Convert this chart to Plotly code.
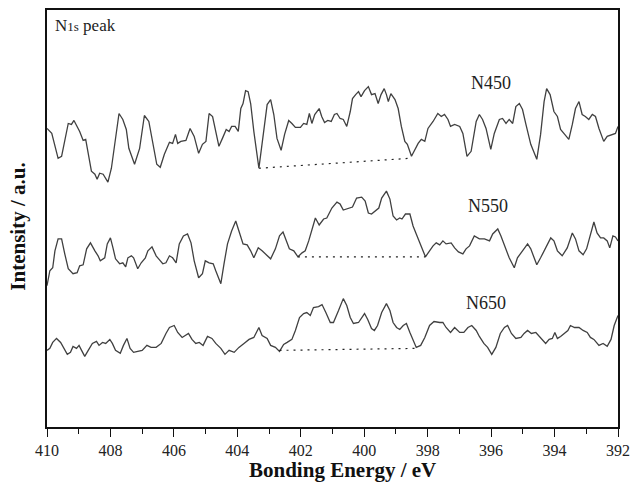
import plotly.graph_objects as go

# ---- data (binding energy in eV, intensity in a.u.) ----
e450 = [410.0, 409.85, 409.65, 409.54, 409.33, 409.23, 409.15, 408.97, 408.86, 408.78, 408.60, 408.49, 408.42, 408.34, 408.23, 408.08, 407.97, 407.73, 407.61, 407.50, 407.42, 407.24, 407.08, 406.93, 406.79, 406.67, 406.54, 406.43, 406.30, 406.14, 406.04, 405.95, 405.88, 405.78, 405.62, 405.49, 405.36, 405.22, 405.10, 404.99, 404.89, 404.78, 404.68, 404.58, 404.47, 404.35, 404.26, 404.18, 404.07, 403.97, 403.89, 403.82, 403.74, 403.66, 403.58, 403.48, 403.32, 403.20, 403.06, 402.95, 402.85, 402.75, 402.62, 402.51, 402.38, 402.28, 402.17, 402.01, 401.91, 401.81, 401.73, 401.65, 401.56, 401.42, 401.34, 401.25, 401.15, 401.04, 400.94, 400.86, 400.76, 400.66, 400.55, 400.44, 400.37, 400.27, 400.18, 400.10, 399.99, 399.87, 399.77, 399.66, 399.56, 399.47, 399.37, 399.30, 399.24, 399.16, 399.03, 398.93, 398.83, 398.72, 398.64, 398.51, 398.39, 398.30, 398.20, 398.09, 397.99, 397.83, 397.68, 397.57, 397.47, 397.36, 397.28, 397.15, 396.99, 396.89, 396.76, 396.63, 396.47, 396.37, 396.27, 396.16, 396.01, 395.90, 395.74, 395.64, 395.53, 395.43, 395.32, 395.22, 395.11, 395.01, 394.91, 394.75, 394.56, 394.44, 394.33, 394.25, 394.14, 394.02, 393.91, 393.81, 393.68, 393.55, 393.44, 393.34, 393.23, 393.13, 393.03, 392.92, 392.81, 392.71, 392.60, 392.45, 392.34, 392.19, 392.08, 392.0]
i450 = [300, 295, 270, 272, 305, 304, 308, 297, 288, 289, 257, 254, 249, 255, 254, 246, 260, 315, 309, 299, 280, 264, 280, 313, 307, 287, 264, 261, 274, 286, 285, 294, 285, 287, 288, 300, 292, 275, 284, 287, 315, 312, 297, 282, 290, 299, 297, 302, 302, 297, 320, 325, 338, 337, 325, 297, 260, 290, 324, 329, 314, 290, 278, 294, 308, 305, 301, 301, 305, 304, 315, 305, 314, 320, 312, 306, 308, 307, 314, 315, 310, 309, 302, 317, 330, 334, 337, 332, 338, 342, 334, 335, 325, 334, 340, 334, 327, 335, 329, 320, 302, 287, 284, 272, 279, 285, 289, 287, 300, 307, 315, 312, 314, 309, 302, 304, 302, 295, 272, 277, 307, 314, 309, 300, 279, 295, 309, 310, 305, 309, 305, 322, 325, 319, 305, 284, 269, 294, 327, 340, 334, 317, 312, 299, 294, 289, 304, 320, 327, 314, 312, 309, 314, 312, 300, 287, 292, 294, 295, 302]

e550 = [410.0, 409.91, 409.82, 409.75, 409.65, 409.54, 409.44, 409.33, 409.18, 409.05, 408.97, 408.86, 408.75, 408.63, 408.49, 408.39, 408.32, 408.18, 408.10, 408.00, 407.92, 407.84, 407.71, 407.61, 407.52, 407.45, 407.34, 407.27, 407.14, 407.03, 406.90, 406.82, 406.69, 406.56, 406.48, 406.35, 406.25, 406.14, 406.04, 405.93, 405.83, 405.70, 405.57, 405.46, 405.36, 405.22, 405.10, 405.01, 404.89, 404.76, 404.68, 404.52, 404.42, 404.31, 404.18, 404.05, 403.95, 403.82, 403.69, 403.58, 403.48, 403.34, 403.22, 403.11, 402.95, 402.80, 402.67, 402.56, 402.43, 402.36, 402.22, 402.09, 401.96, 401.86, 401.75, 401.65, 401.54, 401.42, 401.28, 401.18, 401.02, 400.86, 400.76, 400.66, 400.50, 400.37, 400.24, 400.08, 399.97, 399.87, 399.77, 399.66, 399.54, 399.45, 399.30, 399.19, 399.09, 398.98, 398.88, 398.81, 398.70, 398.56, 398.46, 398.36, 398.22, 398.07, 397.94, 397.83, 397.73, 397.62, 397.52, 397.42, 397.26, 397.15, 397.03, 396.89, 396.79, 396.68, 396.53, 396.37, 396.21, 396.05, 395.95, 395.79, 395.69, 395.58, 395.43, 395.27, 395.17, 395.01, 394.85, 394.75, 394.56, 394.44, 394.28, 394.12, 394.02, 393.91, 393.76, 393.60, 393.44, 393.34, 393.23, 393.10, 392.99, 392.87, 392.76, 392.66, 392.55, 392.45, 392.34, 392.26, 392.16, 392.08, 392.0]
i550 = [142, 157, 160, 177, 189, 189, 174, 159, 154, 155, 162, 163, 179, 185, 177, 172, 167, 170, 184, 190, 180, 169, 164, 165, 161, 170, 172, 170, 159, 165, 170, 177, 181, 172, 169, 164, 165, 172, 170, 165, 184, 192, 194, 185, 167, 150, 154, 167, 165, 164, 157, 144, 164, 184, 197, 207, 197, 184, 183, 177, 170, 180, 177, 174, 169, 179, 192, 196, 185, 179, 177, 171, 175, 177, 187, 197, 210, 203, 209, 210, 220, 226, 224, 218, 220, 221, 230, 231, 227, 215, 214, 217, 220, 230, 237, 229, 212, 208, 210, 209, 214, 214, 202, 194, 182, 171, 177, 182, 185, 183, 187, 184, 185, 180, 176, 174, 179, 182, 192, 189, 189, 187, 194, 199, 192, 182, 170, 160, 170, 177, 184, 179, 163, 170, 180, 190, 187, 177, 172, 180, 195, 189, 177, 173, 179, 192, 206, 195, 190, 190, 187, 180, 192, 191, 187]

e650 = [410.0, 409.91, 409.82, 409.70, 409.57, 409.47, 409.36, 409.26, 409.18, 409.07, 408.99, 408.91, 408.81, 408.70, 408.57, 408.44, 408.36, 408.25, 408.15, 408.02, 407.94, 407.84, 407.69, 407.59, 407.48, 407.38, 407.27, 407.14, 407.00, 406.85, 406.72, 406.56, 406.40, 406.25, 406.14, 405.99, 405.88, 405.74, 405.64, 405.54, 405.43, 405.31, 405.20, 405.08, 404.94, 404.80, 404.68, 404.52, 404.39, 404.26, 404.10, 403.95, 403.79, 403.63, 403.48, 403.32, 403.22, 403.06, 402.95, 402.80, 402.67, 402.54, 402.43, 402.28, 402.17, 402.04, 401.91, 401.81, 401.70, 401.60, 401.44, 401.33, 401.21, 401.07, 400.97, 400.91, 400.81, 400.66, 400.55, 400.44, 400.34, 400.18, 400.08, 399.99, 399.89, 399.77, 399.68, 399.58, 399.45, 399.30, 399.19, 399.09, 398.98, 398.88, 398.77, 398.67, 398.56, 398.46, 398.36, 398.22, 398.09, 397.94, 397.80, 397.62, 397.52, 397.42, 397.28, 397.15, 396.99, 396.86, 396.73, 396.61, 396.47, 396.37, 396.23, 396.11, 395.98, 395.85, 395.71, 395.58, 395.48, 395.36, 395.22, 395.06, 394.96, 394.85, 394.73, 394.59, 394.44, 394.28, 394.17, 394.07, 393.99, 393.91, 393.81, 393.68, 393.58, 393.50, 393.37, 393.23, 393.10, 392.97, 392.87, 392.76, 392.60, 392.47, 392.34, 392.22, 392.12, 392.0]
i650 = [77, 79, 85, 89, 85, 79, 73, 75, 81, 79, 82, 77, 71, 77, 84, 86, 82, 85, 84, 88, 84, 77, 74, 82, 89, 79, 75, 76, 77, 82, 80, 80, 84, 94, 100, 102, 95, 90, 92, 94, 88, 84, 85, 82, 91, 89, 84, 79, 73, 77, 75, 80, 84, 88, 90, 100, 92, 89, 82, 80, 76, 83, 85, 88, 97, 110, 114, 115, 112, 120, 121, 123, 115, 105, 105, 109, 117, 129, 122, 110, 104, 105, 110, 114, 108, 99, 97, 102, 115, 124, 117, 105, 100, 98, 102, 104, 95, 87, 80, 82, 90, 102, 106, 105, 105, 100, 95, 100, 95, 95, 100, 102, 97, 91, 84, 80, 73, 80, 94, 100, 102, 94, 89, 90, 94, 97, 94, 95, 90, 84, 88, 89, 95, 89, 91, 94, 97, 102, 100, 100, 97, 95, 90, 88, 82, 84, 81, 88, 102, 112]

# baselines under the N1s peak (start/end energy, intensity)
base450_e = [403.32, 398.55]
base450_i = [260, 270]
base550_e = [402.09, 398.07]
base550_i = [171, 171]
base650_e = [402.67, 398.36]
base650_i = [77, 79]

labels = ["N450", "N550", "N650"]
label_e = [396.0, 396.1, 396.15]
label_i = [346, 222, 125]

x_ticks = [410, 408, 406, 404, 402, 400, 398, 396, 394, 392]

FONT = "Liberation Serif, Times New Roman, serif"
LINE = "#404040"

fig = go.Figure()
for e, i in [(e450, i450), (e550, i550), (e650, i650)]:
    fig.add_trace(go.Scatter(x=e, y=i, mode="lines",
                             line=dict(color=LINE, width=1.3),
                             showlegend=False, hoverinfo="skip"))
for e, i in [(base450_e, base450_i), (base550_e, base550_i), (base650_e, base650_i)]:
    fig.add_trace(go.Scatter(x=e, y=i, mode="lines",
                             line=dict(color="#222222", width=1.2, dash="2px,5px"),
                             showlegend=False, hoverinfo="skip"))

for t, e, i in zip(labels, label_e, label_i):
    fig.add_annotation(x=e, y=i, text=t, showarrow=False,
                       font=dict(family=FONT, size=18, color="#222222"))

fig.add_annotation(xref="paper", yref="paper", x=0.01, y=0.962, xanchor="left",
                   yanchor="middle", showarrow=False,
                   text="N<span style='font-size:13px'>1s</span> peak",
                   font=dict(family=FONT, size=17, color="#222222"))

fig.add_annotation(xref="paper", yref="paper", x=0.517, y=-0.104,
                   text="<b>Bonding Energy / eV</b>", showarrow=False,
                   xanchor="center", yanchor="middle",
                   font=dict(family=FONT, size=21, color="#111111"))
fig.add_annotation(xref="paper", yref="paper", x=-0.051, y=0.48,
                   text="<b>Intensity / a.u.</b>", showarrow=False, textangle=-90,
                   xanchor="center", yanchor="middle",
                   font=dict(family=FONT, size=21, color="#111111"))

fig.update_layout(
    width=638, height=491,
    margin=dict(l=47, r=17, t=8, b=64),
    paper_bgcolor="white", plot_bgcolor="white",
    showlegend=False,
)
fig.update_xaxes(range=[410, 392], tickvals=x_ticks,
                 ticktext=[str(v) for v in x_ticks],
                 ticks="outside", ticklen=8, tickwidth=1.3, tickcolor="#111",
                 minor=dict(dtick=1, ticks="outside", ticklen=5, tickwidth=1.3, tickcolor="#111"),
                 showline=True, linecolor="#111", linewidth=1.6, mirror=True,
                 showgrid=False, zeroline=False,
                 tickfont=dict(family=FONT, size=16, color="#222"))
fig.update_yaxes(range=[0, 419], showticklabels=False, ticks="",
                 showline=True, linecolor="#111", linewidth=1.6, mirror=True,
                 showgrid=False, zeroline=False)

fig.write_html("out.html")
